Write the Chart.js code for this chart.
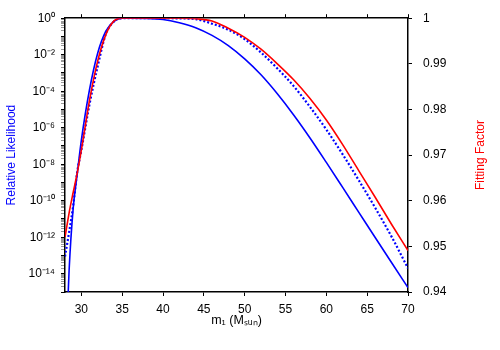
<!DOCTYPE html>
<html>
<head>
<meta charset="utf-8">
<script src="https://cdn.jsdelivr.net/npm/chart.js@4/dist/chart.umd.min.js"></script>
<style>
  html, body { margin: 0; padding: 0; background: #fff; }
  #wrap { width: 500px; height: 350px; }
</style>
</head>
<body>
<div id="wrap"><canvas id="chart" width="500" height="350"></canvas></div>
<script>
// m1 values (solar masses)
const mass = [28, 28.5, 29, 29.5, 30, 31, 32, 33, 34, 35, 36, 38, 40, 42, 44, 46, 48, 50, 52, 54, 56, 58, 60, 62, 64, 66, 68, 70];

// relative likelihood, stored as log10 exponents
const likeSolid = [-19.5, -13.84, -10.42, -8.52, -6.69, -3.92, -1.92, -0.71, -0.17, 0, 0, -0.01, -0.07, -0.25, -0.52, -0.94, -1.5, -2.23, -3.1, -4.14, -5.3, -6.56, -7.9, -9.27, -10.65, -12.03, -13.4, -14.76];
const likeDotted = [-13.06, -11.73, -10.28, -8.41, -7.24, -4.72, -2.64, -0.87, -0.18, 0, 0, 0, 0, -0.01, -0.05, -0.3, -0.63, -1.15, -1.88, -2.75, -3.72, -4.86, -6.1, -7.46, -8.9, -10.4, -11.98, -13.7];

// fitting factor (right axis)
const fitFactor = [0.9520, 0.9573, 0.9618, 0.9661, 0.9711, 0.9820, 0.9906, 0.9964, 0.9994, 1.0, 1.0, 1.0, 1.0, 1.0, 0.9999, 0.9994, 0.9978, 0.9958, 0.9932, 0.9900, 0.9865, 0.9824, 0.9777, 0.9723, 0.9665, 0.9607, 0.9548, 0.9491];

// ticks
const massTicks = [30, 35, 40, 45, 50, 55, 60, 65, 70];
const factorTicks = [0.94, 0.95, 0.96, 0.97, 0.98, 0.99, 1];
const labelDecades = [0, -2, -4, -6, -8, -10, -12, -14];
const allDecades = [-15, -14, -13, -12, -11, -10, -9, -8, -7, -6, -5, -4, -3, -2, -1, 0];

const xTitle = "m\u2081 (M\u209b\u1d64\u2099)";
const leftTitle = "Relative Likelihood";
const rightTitle = "Fitting Factor";

const SUP = { "0": "\u2070", "1": "\u00b9", "2": "\u00b2", "3": "\u00b3", "4": "\u2074", "5": "\u2075", "6": "\u2076", "7": "\u2077", "8": "\u2078", "9": "\u2079", "-": "\u207b" };
const sup = (n) => String(n).split("").map(c => SUP[c]).join("");

const isDecade = (v) => {
  const e = Math.round(Math.log10(v));
  return Math.abs(v / Math.pow(10, e) - 1) < 1e-6;
};

Chart.defaults.font.family = '"Liberation Sans", Arial, sans-serif';
Chart.defaults.font.size = 12;
Chart.defaults.color = "#000";

const rightTitlePlugin = {
  id: "rightTitle",
  afterDraw(chart) {
    const { ctx, chartArea } = chart;
    ctx.save();
    ctx.translate(481, (chartArea.top + chartArea.bottom) / 2);
    ctx.rotate(-Math.PI / 2);
    ctx.font = '12px "Liberation Sans", Arial, sans-serif';
    ctx.fillStyle = "#ff0000";
    ctx.textAlign = "center";
    ctx.textBaseline = "middle";
    ctx.fillText(rightTitle, 0, 0);
    ctx.restore();
  }
};

const axisGrid = { drawOnChartArea: false, drawTicks: true, tickLength: 4, color: "#000", tickWidth: 1 };
const axisBorder = { display: true, color: "#000", width: 1.5 };

new Chart(document.getElementById("chart"), {
  type: "line",
  data: {
    datasets: [
      {
        label: "Fitting factor",
        data: mass.map((m, i) => ({ x: m, y: fitFactor[i] })),
        yAxisID: "yFF",
        borderColor: "#ff0000",
        borderWidth: 1.6,
        order: 0
      },
      {
        label: "Likelihood (dotted)",
        data: mass.map((m, i) => ({ x: m, y: Math.pow(10, likeDotted[i]) })),
        yAxisID: "y",
        borderColor: "#0000ff",
        borderWidth: 2.2,
        borderDash: [2, 2],
        order: 1
      },
      {
        label: "Likelihood",
        data: mass.map((m, i) => ({ x: m, y: Math.pow(10, likeSolid[i]) })),
        yAxisID: "y",
        borderColor: "#0000ff",
        borderWidth: 1.6,
        order: 2
      }
    ]
  },
  options: {
    responsive: false,
    animation: false,
    layout: { padding: 0 },
    elements: {
      point: { radius: 0 },
      line: { cubicInterpolationMode: "monotone", fill: false }
    },
    plugins: { legend: { display: false }, tooltip: { enabled: false } },
    scales: {
      x: {
        type: "linear",
        position: "bottom",
        min: 28,
        max: 70,
        afterBuildTicks: (axis) => { axis.ticks = massTicks.map(v => ({ value: v })); },
        afterFit: (axis) => { axis.height = 58; },
        ticks: { padding: 6, maxRotation: 0, autoSkip: false },
        grid: axisGrid,
        border: axisBorder,
        title: { display: true, text: xTitle, color: "#000", font: { size: 12.5 }, padding: { top: 0, bottom: 22 } }
      },
      x2: {
        type: "linear",
        position: "top",
        min: 28,
        max: 70,
        afterBuildTicks: (axis) => { axis.ticks = massTicks.map(v => ({ value: v })); },
        afterFit: (axis) => { axis.height = 12; },
        ticks: { display: false },
        grid: axisGrid,
        border: axisBorder
      },
      y: {
        type: "logarithmic",
        position: "left",
        min: 1e-15,
        max: 1,
        afterBuildTicks: (axis) => {
          const t = [];
          allDecades.forEach(e => {
            t.push({ value: Math.pow(10, e) });
            if (e < 0) for (let k = 2; k <= 9; k++) t.push({ value: k * Math.pow(10, e) });
          });
          axis.ticks = t;
        },
        afterFit: (axis) => { axis.width = 65; },
        ticks: {
          autoSkip: false,
          padding: 6,
          callback: (v) => {
            const e = Math.round(Math.log10(v));
            if (isDecade(v) && labelDecades.includes(e)) return "10" + sup(e);
            return "";
          }
        },
        grid: {
          ...axisGrid,
          tickColor: (ctx) => (ctx.tick && isDecade(ctx.tick.value) ? "#000" : "#9a9a9a")
        },
        border: axisBorder,
        title: { display: true, text: leftTitle, color: "#0000ff", font: { size: 12 }, padding: { top: 4, bottom: 0 } }
      },
      yFF: {
        type: "linear",
        position: "right",
        min: 0.94,
        max: 1,
        afterBuildTicks: (axis) => { axis.ticks = factorTicks.map(v => ({ value: v })); },
        afterFit: (axis) => { axis.width = 92; },
        ticks: {
          autoSkip: false,
          padding: 11,
          callback: (v) => (v === 1 ? "1" : v.toFixed(2))
        },
        grid: axisGrid,
        border: axisBorder
      }
    }
  },
  plugins: [rightTitlePlugin]
});
</script>
</body>
</html>
